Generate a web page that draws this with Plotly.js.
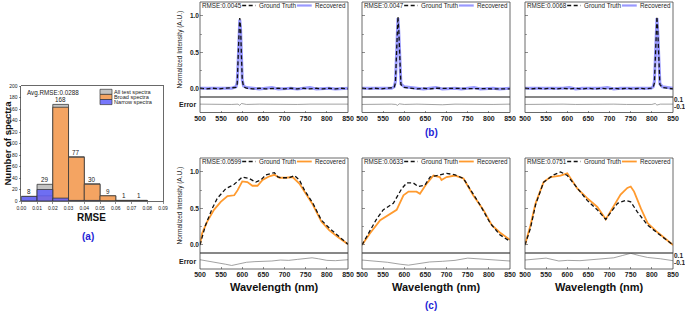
<!DOCTYPE html>
<html><head><meta charset="utf-8">
<script src="https://cdn.plot.ly/plotly-3.0.1.min.js"></script>
<style>html,body{margin:0;padding:0;background:#fff}#plot{width:685px;height:311px}</style>
</head><body><div id="plot"></div>
<script>
// ---------- (a) histogram data ----------
const binCenters = [0.005,0.015,0.025,0.035,0.045,0.055,0.065,0.075];
const allCounts = [8,29,168,77,30,9,1,1];
const broadCounts = [0,9,163,76,29,9,1,1];
const narrowCounts = [8,20,5,1,1,0,0,0];
const histXTicks = [0,0.01,0.02,0.03,0.04,0.05,0.06,0.07,0.08,0.09];
const histXTickText = ['0.00','0.01','0.02','0.03','0.04','0.05','0.06','0.07','0.08','0.09'];
const histYTicks = [0,20,40,60,80,100,120,140,160,180,200];
const histLegend = ['All test spectra','Broad spectra','Narrow spectra'];
const avgText = 'Avg.RMSE:0.0288';

// ---------- (b) narrow spectra ----------
const b1_wl = [500,515,530,545,560,575,585,588,590,592,594,596,598,600,603,610,625,640,655,670,685,700,715,730,745,760,775,790,805,820,835,850];
const b1_gt = [0.01,0.0,0.01,0.0,0.01,0.01,0.02,0.07,0.3,0.72,0.97,0.85,0.45,0.12,0.03,0.01,0.0,0.01,0.0,0.01,0.01,0.0,0.01,0.0,0.01,0.0,0.01,0.0,0.01,0.0,0.01,0.0];
const b1_rec = [0.01,0.01,0.0,0.01,0.0,0.01,0.03,0.09,0.34,0.76,0.95,0.82,0.42,0.12,0.04,0.02,0.01,0.0,0.01,0.02,0.0,0.01,0.01,0.0,0.01,0.02,0.0,0.01,0.01,0.0,0.01,0.01];
const b1_err_wl = [500,525,550,575,590,594,598,610,640,670,700,730,760,790,820,850];
const b1_err = [-0.03,-0.04,-0.03,-0.04,-0.03,-0.07,-0.01,-0.04,-0.03,-0.04,-0.03,-0.04,-0.03,-0.03,-0.04,-0.03];

const b2_wl = [500,515,530,545,560,570,576,579,581,583,585,587,589,592,600,615,630,645,660,675,690,705,720,735,750,765,780,795,810,825,840,850];
const b2_gt = [0.01,0.0,0.01,0.0,0.01,0.01,0.02,0.08,0.35,0.78,0.99,0.8,0.38,0.06,0.02,0.01,0.0,0.01,0.0,0.01,0.01,0.0,0.01,0.0,0.01,0.0,0.01,0.0,0.01,0.0,0.01,0.0];
const b2_rec = [0.01,0.01,0.0,0.01,0.0,0.01,0.03,0.1,0.38,0.8,0.97,0.78,0.36,0.07,0.03,0.02,0.01,0.0,0.01,0.02,0.0,0.01,0.01,0.0,0.01,0.02,0.0,0.01,0.01,0.0,0.01,0.01];
const b2_err_wl = [500,525,550,570,580,584,588,600,630,660,690,720,750,780,810,850];
const b2_err = [-0.04,-0.03,-0.04,-0.03,-0.04,-0.07,-0.02,-0.04,-0.03,-0.04,-0.05,-0.03,-0.04,-0.03,-0.04,-0.03];

const b3_wl = [500,515,530,545,560,575,590,605,620,635,650,665,680,695,710,725,740,755,770,785,798,803,806,808,810,812,814,816,819,825,838,850];
const b3_gt = [0.01,0.0,0.01,0.0,0.01,0.0,0.01,0.0,0.01,0.0,0.01,0.0,0.01,0.0,0.01,0.0,0.01,0.0,0.01,0.0,0.01,0.02,0.08,0.35,0.78,0.99,0.8,0.38,0.06,0.02,0.01,0.0];
const b3_rec = [0.01,0.01,0.0,0.01,0.0,0.01,0.01,0.02,0.0,0.01,0.01,0.0,0.01,0.02,0.0,0.01,0.01,0.0,0.01,0.01,0.01,0.03,0.1,0.38,0.8,0.97,0.78,0.36,0.07,0.03,0.02,0.01];
const b3_err_wl = [500,530,560,590,620,650,680,710,740,770,800,808,812,820,835,850];
const b3_err = [-0.04,-0.03,-0.04,-0.03,-0.04,-0.03,-0.02,-0.03,-0.04,-0.03,-0.04,-0.01,-0.06,-0.03,-0.04,-0.03];

// ---------- (c) broad spectra ----------
const c1_gt_wl = [500,513,529,541,561,581,600,616,632,644,656,676,684,692,711,723,735,747,767,787,806,826,850];
const c1_gt = [0.0,0.27,0.5,0.64,0.77,0.83,0.93,0.91,0.86,0.89,0.96,0.99,0.93,0.92,0.92,0.95,0.89,0.75,0.57,0.34,0.23,0.13,0.01];
const c1_rec_wl = [500,505,517,533,549,565,581,589,600,612,624,636,648,664,676,688,703,719,735,747,767,787,806,826,850];
const c1_rec = [0.0,0.16,0.32,0.48,0.59,0.67,0.68,0.75,0.87,0.86,0.81,0.81,0.89,0.94,0.96,0.92,0.92,0.93,0.84,0.73,0.55,0.32,0.2,0.11,0.01];
const c1_err_wl = [500,520,540,560,575,590,610,630,650,670,690,710,730,750,765,780,800,820,850];
const c1_err = [-0.01,-0.05,-0.09,-0.15,-0.19,-0.14,-0.09,-0.07,-0.07,-0.05,-0.02,-0.03,0.0,0.03,0.05,0.02,-0.03,-0.04,-0.01];

const c2_gt_wl = [500,519,535,550,574,594,606,621,633,649,661,677,700,720,740,755,779,803,826,850];
const c2_gt = [0.0,0.2,0.36,0.48,0.57,0.77,0.85,0.85,0.8,0.82,0.93,0.95,0.98,0.96,0.91,0.77,0.55,0.3,0.14,0.05];
const c2_rec_wl = [500,519,543,562,582,598,610,629,637,653,669,684,688,700,720,740,763,787,807,826,850];
const c2_rec = [0.0,0.16,0.34,0.41,0.48,0.68,0.73,0.73,0.7,0.84,0.95,0.93,0.89,0.93,0.95,0.91,0.68,0.48,0.27,0.17,0.07];
const c2_err_wl = [500,530,560,590,610,630,660,690,720,750,770,800,830,850];
const c2_err = [-0.02,-0.05,-0.09,-0.15,-0.18,-0.14,-0.08,-0.06,-0.03,0.04,0.02,-0.02,-0.04,-0.05];

const c3_gt_wl = [500,513,525,544,568,584,600,624,647,671,691,703,719,738,750,766,790,814,850];
const c3_gt = [0.0,0.23,0.55,0.86,0.96,1.0,0.95,0.77,0.61,0.48,0.35,0.45,0.57,0.61,0.59,0.45,0.27,0.16,0.0];
const c3_rec_wl = [500,513,525,544,560,584,600,624,647,671,691,711,726,742,750,758,774,790,814,850];
const c3_rec = [0.0,0.27,0.57,0.86,0.93,0.95,0.98,0.77,0.64,0.52,0.35,0.55,0.69,0.78,0.8,0.73,0.5,0.3,0.17,0.0];
const c3_err_wl = [500,520,550,580,600,630,660,690,710,730,750,770,790,820,850];
const c3_err = [-0.02,0.0,0.04,-0.05,-0.03,-0.04,-0.01,0.01,0.05,0.12,0.19,0.12,0.06,0.02,-0.04];

const rmseB = ['RMSE:0.0045','RMSE:0.0047','RMSE:0.0068'];
const rmseC = ['RMSE:0.0599','RMSE:0.0633','RMSE:0.0751'];
const wlTicks = [500,550,600,650,700,750,800,850];

// ---------- layout helpers ----------
const W = 685, H = 311;
const fx = p => p / W, fy = p => 1 - p / H;
const FONT = 'Liberation Sans, Arial, sans-serif';
const BLUE_LBL = '#2424d6';
const cols = [[200,348],[362,510],[525,673]];
const rowB = {main:[2,97], err:[97,112.5]};
const rowC = {main:[158,253], err:[253,269]};

const data = [];
const layout = {
  width: W, height: H, margin: {l:0,r:0,t:0,b:0},
  paper_bgcolor: '#fff', plot_bgcolor: '#fff', showlegend: false,
  font: {family: FONT, color: '#222'},
  barmode: 'overlay', bargap: 0,
  shapes: [], annotations: []
};
function txt(x, y, text, size, opts) {
  return Object.assign({xref:'paper', yref:'paper', x: fx(x), y: fy(y), text: text, showarrow:false,
    xanchor:'center', yanchor:'middle', borderpad:0, font:{size:size, family:FONT, color:'#222'}}, opts || {});
}

// ---------- (a) ----------
const histColors = ['#c3c3c3','#f4a462','rgba(95,95,250,0.85)'];
[allCounts, broadCounts, narrowCounts].forEach((arr, k) => {
  data.push({type:'bar', x: binCenters, y: arr, width: 0.01, xaxis:'x', yaxis:'y',
    marker:{color: histColors[k], line:{color:'#3a3a3a', width:0.8}}, hoverinfo:'skip'});
});
layout.xaxis = {domain:[fx(21.3), fx(163)], anchor:'y', range:[0,0.09], tickvals: histXTicks, ticktext: histXTickText,
  tickfont:{size:5, family:FONT}, ticks:'outside', ticklen:2, tickwidth:0.6, showline:true, mirror:true,
  linecolor:'#444', linewidth:0.8, showgrid:false, zeroline:false};
layout.yaxis = {domain:[fy(201), fy(86)], anchor:'x', range:[0,200], tickvals: histYTicks,
  tickfont:{size:5, family:FONT}, ticks:'outside', ticklen:2, tickwidth:0.6, showline:true, mirror:true,
  linecolor:'#444', linewidth:0.8, showgrid:false, zeroline:false};
binCenters.forEach((c, i) => {
  layout.annotations.push({xref:'x', yref:'y', x:c, y:allCounts[i], yshift:0, xanchor:'center', yanchor:'bottom',
    borderpad:0, text:String(allCounts[i]), showarrow:false, font:{size:6.3, family:FONT, color:'#222'}});
});
layout.annotations.push(txt(26, 92.5, avgText, 6.3, {xanchor:'left'}));
histLegend.forEach((t, k) => {
  const y0 = 89.3 + k*5.1, y1 = y0 + 5.1;
  layout.shapes.push({type:'rect', xref:'paper', yref:'paper', x0:fx(100), x1:fx(112), y0:fy(y1), y1:fy(y0),
    fillcolor: histColors[k], line:{color:'#3a3a3a', width:0.7}});
  layout.annotations.push(txt(112.5, (y0+y1)/2, t, 5.6, {xanchor:'left'}));
});
layout.annotations.push(txt(7, 143.5, '<b>Number of spectra</b>', 9.5, {textangle:-90, font:{size:9.5, family:FONT, color:'#111'}}));
layout.annotations.push(txt(91, 217, '<b>RMSE</b>', 10, {font:{size:10, family:FONT, color:'#111'}}));
layout.annotations.push(txt(88, 236, '<b>(a)</b>', 10, {font:{size:10, family:FONT, color:BLUE_LBL}}));

// ---------- (b) and (c) ----------
function addColumn(i, xi, ymi, yei, row, sets, isC, rmse) {
  const col = cols[i];
  const first = i === 0, last = i === 2;
  const xa = 'x' + xi, ym = 'y' + ymi, ye = 'y' + yei;
  const recColor = isC ? '#ff9a2e' : 'rgba(70,70,255,0.55)';
  const recWidth = isC ? 1.8 : 3;
  data.push({type:'scatter', mode:'lines', x: sets.recWl, y: sets.rec, xaxis:xa, yaxis:ym,
    line:{color:recColor, width:recWidth}, hoverinfo:'skip'});
  data.push({type:'scatter', mode:'lines', x: sets.gtWl, y: sets.gt, xaxis:xa, yaxis:ym,
    line:{color:'#111', width:1.3, dash:'4px,2.5px'}, hoverinfo:'skip'});
  data.push({type:'scatter', mode:'lines', x: sets.errWl, y: sets.err, xaxis:xa, yaxis:ye,
    line:{color:'#8a8a8a', width:0.8}, hoverinfo:'skip'});

  layout['xaxis' + xi] = {domain:[fx(col[0]), fx(col[1])], anchor: ye, range:[500,850], tickvals: wlTicks,
    tickfont:{size:7, family:FONT, weight:'bold', color:'#222'}, ticks:'inside', ticklen:2, tickwidth:0.6,
    showline:false, showgrid:false, zeroline:false};
  layout['yaxis' + ymi] = {domain:[fy(row.main[1]), fy(row.main[0])], anchor: xa, range:[-0.11,1.19],
    tickvals:[0,0.5,1], ticktext:['0.0','0.5','1.0'], showticklabels:first,
    tickfont:{size:6.5, family:FONT, weight:'bold', color:'#222'}, ticks:'inside', ticklen:2.5, tickwidth:0.6,
    minor:{tickvals:[0.25,0.75], ticks:'inside', ticklen:1.5, tickwidth:0.5},
    showline:false, showgrid:false, zeroline:false};
  layout['yaxis' + yei] = {domain:[fy(row.err[1]), fy(row.err[0])], anchor: xa, range:[-0.3,0.2],
    side: last ? 'right' : 'left', tickvals:[0.1,-0.1], ticktext:['0.1','-0.1'], showticklabels:last,
    tickfont:{size:6.5, family:FONT, weight:'bold', color:'#222'}, ticks:'', showline:false, showgrid:false, zeroline:false};

  [ym, ye].forEach(y => layout.shapes.push({type:'rect', xref: xa + ' domain', yref: y + ' domain',
    x0:0, x1:1, y0:0, y1:1, line:{color:'#444', width:0.8}, layer:'above'}));
  const ly = 1 - 3.5 / 95;
  const lg = (x, text) => ({xref: xa + ' domain', yref: ym + ' domain', x:x, y:ly, xanchor:'left', yanchor:'middle',
    borderpad:0, text: text, showarrow:false, font:{size:6.3, family:FONT, color:'#222'}});
  layout.annotations.push(lg(0.008, rmse));
  layout.shapes.push({type:'line', xref: xa + ' domain', yref: ym + ' domain', x0:0.285, x1:0.375, y0:ly, y1:ly,
    line:{color:'#111', width:1.3, dash:'4px,2.5px'}});
  layout.annotations.push(lg(0.395, 'Ground Truth'));
  layout.shapes.push({type:'line', xref: xa + ' domain', yref: ym + ' domain', x0:0.655, x1:0.755, y0:ly, y1:ly,
    line:{color: recColor, width: isC ? 1.8 : 2.2}});
  layout.annotations.push(lg(0.77, 'Recovered'));

  if (first) {
    layout.annotations.push(txt(180, (row.main[0]+row.main[1])/2, 'Normalized Intensity (A.U.)', 6.5, {textangle:-90}));
    layout.annotations.push(txt(197, (row.err[0]+row.err[1])/2, '<b>Error</b>', 7, {xanchor:'right'}));
  }
  if (isC) {
    layout.annotations.push(txt((col[0]+col[1])/2, 287, '<b>Wavelength (nm)</b>', 11, {font:{size:11, family:FONT, color:'#111'}}));
  }
}

addColumn(0, 2, 2, 5, rowB, {gtWl:b1_wl, gt:b1_gt, recWl:b1_wl, rec:b1_rec, errWl:b1_err_wl, err:b1_err}, false, rmseB[0]);
addColumn(1, 3, 3, 6, rowB, {gtWl:b2_wl, gt:b2_gt, recWl:b2_wl, rec:b2_rec, errWl:b2_err_wl, err:b2_err}, false, rmseB[1]);
addColumn(2, 4, 4, 7, rowB, {gtWl:b3_wl, gt:b3_gt, recWl:b3_wl, rec:b3_rec, errWl:b3_err_wl, err:b3_err}, false, rmseB[2]);
addColumn(0, 5, 8, 11, rowC, {gtWl:c1_gt_wl, gt:c1_gt, recWl:c1_rec_wl, rec:c1_rec, errWl:c1_err_wl, err:c1_err}, true, rmseC[0]);
addColumn(1, 6, 9, 12, rowC, {gtWl:c2_gt_wl, gt:c2_gt, recWl:c2_rec_wl, rec:c2_rec, errWl:c2_err_wl, err:c2_err}, true, rmseC[1]);
addColumn(2, 7, 10, 13, rowC, {gtWl:c3_gt_wl, gt:c3_gt, recWl:c3_rec_wl, rec:c3_rec, errWl:c3_err_wl, err:c3_err}, true, rmseC[2]);

layout.annotations.push(txt(431, 133, '<b>(b)</b>', 10, {font:{size:10, family:FONT, color:BLUE_LBL}}));
layout.annotations.push(txt(431, 305, '<b>(c)</b>', 10, {font:{size:10, family:FONT, color:BLUE_LBL}}));

Plotly.newPlot('plot', data, layout, {staticPlot:true, displayModeBar:false});
</script></body></html>
